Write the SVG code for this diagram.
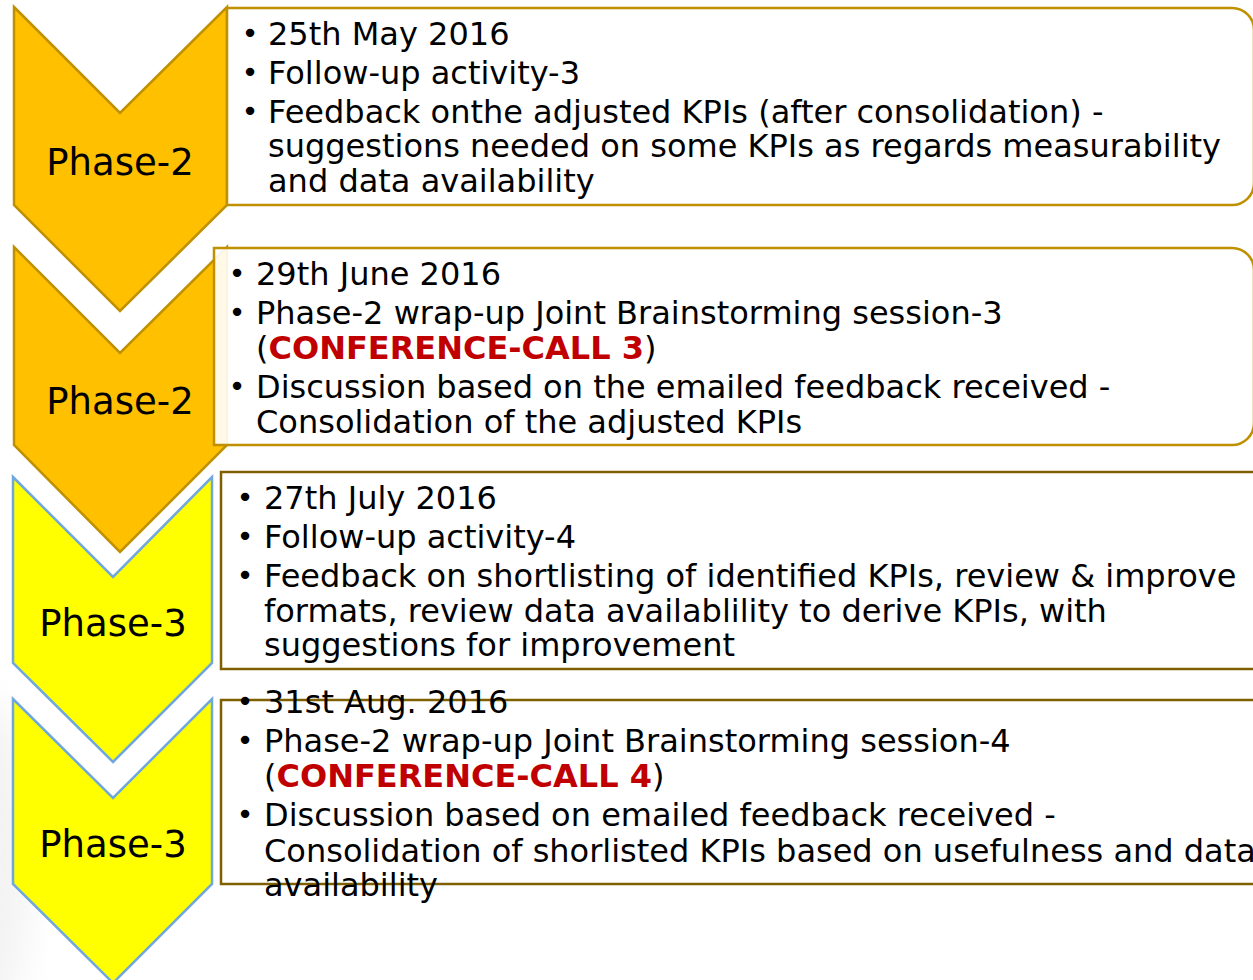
<svg xmlns="http://www.w3.org/2000/svg" width="1253" height="980" viewBox="0 0 1253 980">
  <defs>
    <filter id="soft" x="-50%" y="-50%" width="200%" height="200%">
      <feGaussianBlur stdDeviation="18"/>
    </filter>
    <style>
      .chev-orange { fill: #FFC000; stroke: #BF9000; stroke-width: 2.5; stroke-linejoin: miter; }
      .chev-yellow { fill: #FFFF00; stroke: #6FA8DC; stroke-width: 2.5; stroke-linejoin: miter; }
      .box-gold { fill: #FFFFFF; fill-opacity: 0.9; stroke: #BF9000; stroke-width: 2.5; }
      .box-olive { fill: #FFFFFF; fill-opacity: 0.9; stroke: #7F6000; stroke-width: 2.5; }
      .phase { font-family: "DejaVu Sans", Verdana, sans-serif; font-size: 37px; fill: #000000; text-anchor: middle; }
      .body { font-family: "DejaVu Sans", Verdana, sans-serif; font-size: 32px; fill: #000000; }
      .bullet { font-family: "DejaVu Sans", Verdana, sans-serif; font-size: 29px; fill: #000000; text-anchor: middle; }
      .call { font-weight: bold; fill: #C00000; }
    </style>
  </defs>

  <!-- page background with faint shading at the lower left -->
  <rect x="0" y="0" width="1253" height="980" fill="#FFFFFF"/>
  <ellipse cx="-10" cy="860" rx="40" ry="160" fill="#E6E6E6" opacity="0.5" filter="url(#soft)"/>

  <!-- phase chevrons -->
  <g id="chevron-1">
    <polygon class="chev-orange" points="14,7 120,113 227,7 227,205 120,311 14,205"/>
    <text class="phase" x="120" y="175">Phase-2</text>
  </g>
  <g id="chevron-2">
    <polygon class="chev-orange" points="14,247 120,353 227,247 227,445 120,552 14,445"/>
    <text class="phase" x="120" y="414">Phase-2</text>
  </g>
  <g id="chevron-3">
    <polygon class="chev-yellow" points="13,477 113,577 212,477 212,663 113,762 13,663"/>
    <text class="phase" x="113" y="636">Phase-3</text>
  </g>
  <g id="chevron-4">
    <polygon class="chev-yellow" points="13,699 113,798 212,699 212,884 113,983 13,884"/>
    <text class="phase" x="113" y="857">Phase-3</text>
  </g>

  <!-- activity boxes -->
  <g id="box-1">
    <path class="box-gold" d="M227,8 H1232 A22,22 0 0 1 1254,30 V183 A22,22 0 0 1 1232,205 H227 Z"/>
    <text class="bullet" x="250" y="43">•</text>
    <text class="bullet" x="250" y="82">•</text>
    <text class="bullet" x="250" y="121">•</text>
    <text class="body" x="268" y="45">25th May 2016</text>
    <text class="body" x="268" y="84">Follow-up activity-3</text>
    <text class="body" x="268" y="123">Feedback onthe adjusted KPIs (after consolidation) -</text>
    <text class="body" x="268" y="157">suggestions needed on some KPIs as regards measurability</text>
    <text class="body" x="268" y="192">and data availability</text>
  </g>

  <g id="box-2">
    <path class="box-gold" d="M214,248 H1232 A22,22 0 0 1 1254,270 V423 A22,22 0 0 1 1232,445 H214 Z"/>
    <text class="bullet" x="237" y="283">•</text>
    <text class="bullet" x="237" y="322">•</text>
    <text class="bullet" x="237" y="396">•</text>
    <text class="body" x="256" y="285">29th June 2016</text>
    <text class="body" x="256" y="324">Phase-2 wrap-up Joint Brainstorming session-3</text>
    <text class="body" x="256" y="359">(<tspan class="call">CONFERENCE-CALL 3</tspan>)</text>
    <text class="body" x="256" y="398">Discussion based on the emailed feedback received -</text>
    <text class="body" x="256" y="433">Consolidation of the adjusted KPIs</text>
  </g>

  <g id="box-3">
    <rect class="box-olive" x="221" y="472" width="1050" height="197"/>
    <text class="bullet" x="245" y="507">•</text>
    <text class="bullet" x="245" y="546">•</text>
    <text class="bullet" x="245" y="585">•</text>
    <text class="body" x="264" y="509">27th July 2016</text>
    <text class="body" x="264" y="548">Follow-up activity-4</text>
    <text class="body" x="264" y="587">Feedback on shortlisting of identified KPIs, review &amp; improve</text>
    <text class="body" x="264" y="622">formats, review data availablility to derive KPIs, with</text>
    <text class="body" x="264" y="656">suggestions for improvement</text>
  </g>

  <g id="box-4">
    <rect class="box-olive" x="221" y="700" width="1050" height="184"/>
    <text class="bullet" x="245" y="711">•</text>
    <text class="bullet" x="245" y="750">•</text>
    <text class="bullet" x="245" y="824">•</text>
    <text class="body" x="264" y="713">31st Aug. 2016</text>
    <text class="body" x="264" y="752">Phase-2 wrap-up Joint Brainstorming session-4</text>
    <text class="body" x="264" y="787">(<tspan class="call">CONFERENCE-CALL 4</tspan>)</text>
    <text class="body" x="264" y="826">Discussion based on emailed feedback received -</text>
    <text class="body" x="264" y="862">Consolidation of shorlisted KPIs based on usefulness and data</text>
    <text class="body" x="264" y="896">availability</text>
  </g>

  <!-- no connectors: the chevrons themselves carry the sequence -->
  <g id="connectors"/>
</svg>
